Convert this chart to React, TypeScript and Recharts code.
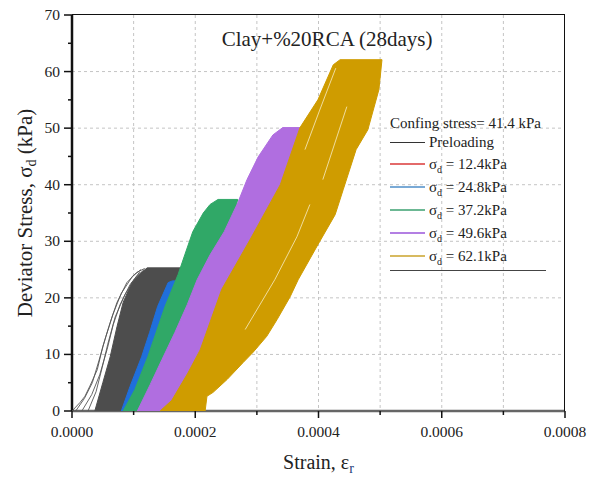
import React from 'react';
import { ScatterChart, Scatter, XAxis, YAxis, CartesianGrid, Legend } from 'recharts';

const FONT = '"Times New Roman", "Liberation Serif", serif';

// strain is kept in units of 1e-4, stress in kPa
const xTicks = [0, 1, 2, 3, 4, 5, 6, 7, 8];
const yTicks = [0, 5, 10, 15, 20, 25, 30, 35, 40, 45, 50, 55, 60, 65, 70];
const xGrid = [1, 2, 3, 4, 5, 6, 7];
const yGrid = [10, 20, 30, 40, 50, 60];

// outline of each band of loading loops (loading side up, plateau, unloading side down)
const preloadStrain = [0.37, 0.5, 0.62, 0.73, 0.83, 0.97, 1.14, 1.22, 1.79, 1.75, 1.27, 0.81];
const preloadStress = [0, 5.0, 9.6, 14.9, 19.2, 22.7, 24.6, 25.3, 25.3, 24.6, 9.1, 0];

// individual preloading cycles fanning out on the left
const fanAStrain = [0, 0.13, 0.21, 0.29, 0.41, 0.5, 0.62, 0.73, 0.89, 1.05, 1.18];
const fanAStress = [0, 1.5, 2.6, 4.4, 7.3, 11.4, 15.6, 19.2, 22.7, 24.5, 25.2];
const fanBStrain = [0.16, 0.32, 0.45, 0.57, 0.67, 0.78, 0.94, 1.1];
const fanBStress = [0, 2.9, 6.4, 10.9, 15.3, 18.8, 22.3, 24.6];
const fanCStrain = [0.26, 0.39, 0.49, 0.58, 0.7, 0.86, 1.04, 1.17];
const fanCStress = [0, 3.4, 7.7, 11.8, 16.6, 20.6, 23.7, 25.0];
const fanDStrain = [0.06, 0.2, 0.33, 0.44, 0.55, 0.66, 0.8, 0.98, 1.12];
const fanDStress = [0, 2.2, 5.0, 9.0, 13.2, 17.0, 20.8, 23.8, 25.0];

const s12Strain = [0.91, 1.36, 1.42, 1.0];
const s12Stress = [0, 12.4, 12.4, 0];

const s24Strain = [0.8, 0.94, 1.13, 1.26, 1.39, 1.56, 1.63, 1.76, 1.45, 1.12];
const s24Stress = [0, 4.3, 9.6, 13.9, 18.5, 22.7, 23.0, 23.0, 13.0, 0];

const s37Strain = [0.83, 1.02, 1.23, 1.51, 1.72, 1.83, 1.96, 2.13, 2.24, 2.37, 2.69, 2.65, 2.08, 1.51, 1.06];
const s37Stress = [0, 3.8, 9.6, 18.5, 24.1, 27.6, 31.7, 35.0, 36.5, 37.4, 37.4, 35.6, 19.7, 5.6, 0];

const s49Strain = [1.06, 1.27, 1.46, 1.67, 1.87, 2.03, 2.24, 2.47, 2.69, 2.84, 3.02, 3.26, 3.42, 3.8, 3.7, 2.89, 2.08, 1.59];
const s49Stress = [0, 4.7, 9.1, 13.9, 18.8, 23.2, 27.6, 31.7, 36.8, 40.9, 44.9, 48.8, 50.1, 50.1, 46.2, 19.7, 5.6, 0];

const s62Strain = [
  1.43, 1.62, 1.88, 2.08, 2.43, 2.89, 3.38, 3.7, 3.99, 4.24, 4.35, 5.03, 4.98, 4.8, 4.61, 4.4, 4.27, 3.99, 3.67,
  3.54, 3.33, 3.16, 2.94, 2.78, 2.52, 2.29, 2.19, 2.16,
];
const s62Stress = [
  0, 1.9, 6.7, 10.8, 21.5, 30.3, 40.0, 50.1, 55.0, 61.2, 62.1, 62.1, 56.8, 49.7, 46.2, 39.1, 34.7, 29.4, 23.2,
  20.2, 16.2, 13.2, 10.4, 8.6, 5.6, 3.3, 2.6, 0,
];

// pale gaps between the 62.1 kPa cycles
const streakAStrain = [2.81, 3.29, 3.65, 3.86];
const streakAStress = [14.4, 23.2, 30.8, 36.5];
const streakBStrain = [3.78, 4.02, 4.28];
const streakBStress = [46.2, 53.2, 60.6];
const streakCStrain = [4.07, 4.46];
const streakCStress = [40.9, 53.8];

const legendLevels = ['12.4', '24.8', '37.2', '49.6', '62.1'];
const legendColors = ['#e36a6a', '#7aaad6', '#6cb894', '#b37fe3', '#d7ba60'];

const toPoints = (strain: number[], stress: number[]) => strain.map((x, i) => ({ x, y: stress[i] }));

const bands = [
  { key: 'pre', pts: toPoints(preloadStrain, preloadStress), color: '#4d4d4d' },
  { key: 's12', pts: toPoints(s12Strain, s12Stress), color: '#e0393e' },
  { key: 's24', pts: toPoints(s24Strain, s24Stress), color: '#1f6fdc' },
  { key: 's37', pts: toPoints(s37Strain, s37Stress), color: '#30a867' },
  { key: 's49', pts: toPoints(s49Strain, s49Stress), color: '#b06ee0' },
  { key: 's62', pts: toPoints(s62Strain, s62Stress), color: '#cf9c00' },
];

const fans = [
  toPoints(fanAStrain, fanAStress),
  toPoints(fanBStrain, fanBStress),
  toPoints(fanCStrain, fanCStress),
  toPoints(fanDStrain, fanDStress),
];

const streaks = [
  toPoints(streakAStrain, streakAStress),
  toPoints(streakBStrain, streakBStress),
  toPoints(streakCStrain, streakCStress),
];

// chart box: plot area spans 72..565 px across and 15..411 px down
const CHART_W = 596;
const CHART_H = 481;
const MARGIN = { top: 15, right: 31, bottom: 0, left: 0 };
const Y_AXIS_W = 72;
const X_AXIS_H = 70;

const noDot = () => <g />;

const XTick = (props: any) => {
  const { x, y, payload } = props;
  const major = payload.value % 2 === 0;
  return (
    <g>
      <line x1={x} x2={x} y1={y} y2={y + (major ? 7 : 4)} stroke="#111" strokeWidth={1.5} />
      {major && (
        <text x={x} y={y + 26} textAnchor="middle" fontSize={15.5} fill="#222" fontFamily={FONT}>
          {(payload.value / 10000).toFixed(4)}
        </text>
      )}
    </g>
  );
};

const YTick = (props: any) => {
  const { x, y, payload } = props;
  const major = payload.value % 10 === 0;
  return (
    <g>
      <line x1={x - (major ? 8 : 4)} x2={x} y1={y} y2={y} stroke="#111" strokeWidth={1.5} />
      {major && (
        <text x={x - 12} y={y + 5} textAnchor="end" fontSize={15.5} fill="#222" fontFamily={FONT}>
          {payload.value}
        </text>
      )}
    </g>
  );
};

const XLabel = (props: any) => {
  const vb = props.viewBox;
  return (
    <text x={vb.x + vb.width / 2} y={vb.y + 58} textAnchor="middle" fontSize={20} fill="#222" fontFamily={FONT}>
      <tspan>Strain, ε</tspan>
      <tspan fontSize={14} dy={4} fill="#1d3c78">r</tspan>
    </text>
  );
};

const YLabel = (props: any) => {
  const vb = props.viewBox;
  const cx = 32;
  const cy = vb.y + vb.height / 2;
  return (
    <text x={cx} y={cy} textAnchor="middle" fontSize={21} fill="#222" fontFamily={FONT} transform={`rotate(-90, ${cx}, ${cy})`}>
      <tspan>Deviator Stress, σ</tspan>
      <tspan fontSize={14} dy={4}>d</tspan>
      <tspan dy={-4}> (kPa)</tspan>
    </text>
  );
};

const LegendBox = () => (
  <div style={{ fontFamily: FONT, fontSize: 15, color: '#222', width: 156 }}>
    <div style={{ height: 20, lineHeight: '20px', whiteSpace: 'nowrap' }}>Confing stress= 41.4 kPa</div>
    <div style={{ height: 19, display: 'flex', alignItems: 'center' }}>
      <div style={{ width: 35, height: 1, background: '#333', marginRight: 4 }} />
      <span>Preloading</span>
    </div>
    {legendLevels.map((lv, i) => (
      <div key={lv} style={{ height: 23, display: 'flex', alignItems: 'center' }}>
        <div style={{ width: 35, height: 2, background: legendColors[i], marginRight: 4 }} />
        <span style={{ lineHeight: '18px' }}>
          σ<sub style={{ fontSize: 10, lineHeight: 0 }}>d</sub> = {lv}kPa
        </span>
      </div>
    ))}
    <div style={{ borderTop: '1.5px solid #444', marginTop: 3, width: 156 }} />
  </div>
);

export default function App() {
  const plotLeft = MARGIN.left + Y_AXIS_W;
  const plotTop = MARGIN.top;
  const plotW = CHART_W - plotLeft - MARGIN.right;
  const plotH = CHART_H - plotTop - MARGIN.bottom - X_AXIS_H;
  return (
    <div style={{ position: 'absolute', left: 0, top: 0, width: CHART_W, height: CHART_H, background: '#fff' }}>
      <div
        style={{
          position: 'absolute',
          left: 177,
          top: 29,
          width: 300,
          textAlign: 'center',
          fontFamily: FONT,
          fontSize: 21,
          lineHeight: '21px',
          color: '#222',
          zIndex: 2,
        }}
      >
        Clay+%20RCA (28days)
      </div>
      {/* top and right edges of the plot box */}
      <div
        style={{
          position: 'absolute',
          left: plotLeft,
          top: plotTop - 0.75,
          width: plotW - 0.75,
          height: plotH,
          borderTop: '1.5px solid #111',
          borderRight: '1.5px solid #111',
          pointerEvents: 'none',
          zIndex: 1,
        }}
      />
      <ScatterChart width={CHART_W} height={CHART_H} margin={MARGIN}>
        <CartesianGrid stroke="#c4c4c4" strokeDasharray="3 3" horizontalValues={yGrid} verticalValues={xGrid} />
        <XAxis
          type="number"
          dataKey="x"
          domain={[0, 8]}
          ticks={xTicks}
          interval={0}
          height={X_AXIS_H}
          tickSize={0}
          tickMargin={0}
          tickLine={false}
          tick={<XTick />}
          axisLine={{ stroke: '#666', strokeWidth: 2.5 }}
          label={XLabel}
        />
        <YAxis
          type="number"
          dataKey="y"
          domain={[0, 70]}
          ticks={yTicks}
          interval={0}
          width={Y_AXIS_W}
          tickSize={0}
          tickMargin={0}
          tickLine={false}
          tick={<YTick />}
          axisLine={{ stroke: '#111', strokeWidth: 2.5 }}
          label={YLabel}
        />
        {bands.slice(0, 1).map((b) => (
          <Scatter
            key={b.key}
            data={b.pts}
            shape={noDot}
            line={{ fill: b.color, stroke: b.color, strokeWidth: 1, strokeLinejoin: 'round' }}
            lineType="joint"
            isAnimationActive={false}
          />
        ))}
        {fans.map((f, i) => (
          <Scatter
            key={`fan${i}`}
            data={f}
            shape={noDot}
            line={{ fill: 'none', stroke: '#555', strokeWidth: 0.9 }}
            lineType="joint"
            isAnimationActive={false}
          />
        ))}
        {bands.slice(1).map((b) => (
          <Scatter
            key={b.key}
            data={b.pts}
            shape={noDot}
            line={{ fill: b.color, stroke: b.color, strokeWidth: 1, strokeLinejoin: 'round' }}
            lineType="joint"
            isAnimationActive={false}
          />
        ))}
        {streaks.map((s, i) => (
          <Scatter
            key={`streak${i}`}
            data={s}
            shape={noDot}
            line={{ fill: 'none', stroke: '#f3e3b0', strokeWidth: 0.9 }}
            lineType="joint"
            isAnimationActive={false}
          />
        ))}
        <Legend
          layout="vertical"
          align="center"
          verticalAlign="middle"
          content={LegendBox}
          wrapperStyle={{ position: 'absolute', left: 390, top: 113, width: 160 }}
        />
      </ScatterChart>
    </div>
  );
}
